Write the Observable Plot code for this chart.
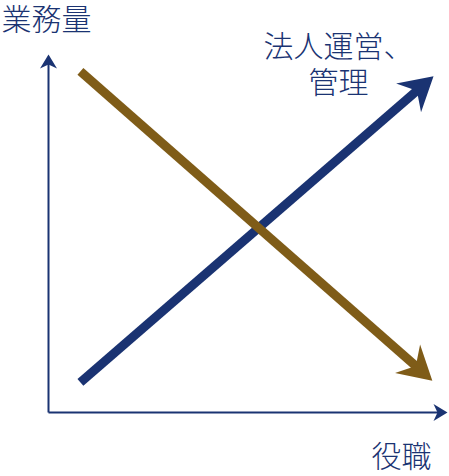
<!DOCTYPE html>
<html><head><meta charset="utf-8">
<script src="https://cdn.jsdelivr.net/npm/d3@7"></script>
<script src="https://cdn.jsdelivr.net/npm/@observablehq/plot@0.6"></script>
<style>
html,body{margin:0;padding:0;background:#fff;}
#chart svg{display:block;}
</style>
</head><body>
<div id="chart"></div>
<script>
// axis labels and line label
const yLabel = "業務量";
const xLabel = "役職";
const navyLabel = "法人運営、\n管理";

// axes (conceptual units, origin at 0,0)
const axisSegments = [
  {x1: 0, y1: 0, x2: 0, y2: 100, name: "y"},
  {x1: 0, y1: 0, x2: 100, y2: 0, name: "x"}
];

// trend lines: [start, arrow tip]
const navyLine = {x1: 8.0, y1: 8.4, x2: 96.5, y2: 93.9};
const brownLine = {x1: 8.0, y1: 95.3, x2: 96.2, y2: 8.9};

const NAVY = "#1a3372";
const BROWN = "#7f5c18";
const FONT = "'Noto Sans CJK JP', 'Noto Sans', sans-serif";

const plot = Plot.plot({
  width: 449,
  height: 476,
  margin: 0,
  style: {background: "#fff", fontFamily: FONT},
  x: {domain: [0, 100], range: [48, 447], axis: null},
  y: {domain: [0, 100], range: [412, 54], axis: null},
  marks: [
    Plot.link(axisSegments, {x1: "x1", y1: "y1", x2: "x2", y2: "y2", stroke: NAVY, strokeWidth: 2, className: "axisline"}),
    Plot.link([navyLine], {x1: "x1", y1: "y1", x2: "x2", y2: "y2", stroke: NAVY, strokeWidth: 9, className: "navyline"}),
    Plot.link([brownLine], {x1: "x1", y1: "y1", x2: "x2", y2: "y2", stroke: BROWN, strokeWidth: 9, className: "brownline"}),
    Plot.text([yLabel], {frameAnchor: "top-left", dx: 1, dy: 8, fill: NAVY, fontSize: 30, fontWeight: 300, textAnchor: "start", lineAnchor: "top"}),
    Plot.text([xLabel], {frameAnchor: "bottom-left", dx: 401, dy: -10, fill: NAVY, fontSize: 30, fontWeight: 300, textAnchor: "middle", lineAnchor: "bottom"}),
    Plot.text([navyLabel], {frameAnchor: "top-left", dx: 338, dy: 31, fill: NAVY, fontSize: 30, fontWeight: 300, textAnchor: "middle", lineAnchor: "top", lineHeight: 1.2})
  ]
});

document.getElementById("chart").appendChild(plot);

// arrowhead markers (tip at the path end)
const svg = d3.select(plot);
const defs = svg.insert("defs", ":first-child");
function addMarker(id, color, len, half, notch) {
  defs.append("marker")
    .attr("id", id)
    .attr("markerUnits", "userSpaceOnUse")
    .attr("orient", "auto")
    .attr("refX", 0).attr("refY", 0)
    .attr("markerWidth", 1).attr("markerHeight", 1)
    .attr("overflow", "visible")
    .append("path")
    .attr("d", `M0,0L${-len},${-half}L${-notch},0L${-len},${half}Z`)
    .attr("fill", color)
    .attr("stroke", "none");
}
addMarker("head-axis", NAVY, 14, 8.5, 10);
addMarker("head-navy", NAVY, 33, 19, 22);
addMarker("head-brown", BROWN, 33, 19, 22);

function applyHead(cls, id, cut) {
  svg.selectAll(`g.${cls} path, g.${cls} line`).each(function() {
    const el = this;
    el.setAttribute("marker-end", `url(#${id})`);
    const L = el.getTotalLength();
    el.setAttribute("stroke-dasharray", `${L - cut} ${L + 10}`);
  });
}
applyHead("axisline", "head-axis", 9);
applyHead("navyline", "head-navy", 20);
applyHead("brownline", "head-brown", 20);
</script>
</body></html>
